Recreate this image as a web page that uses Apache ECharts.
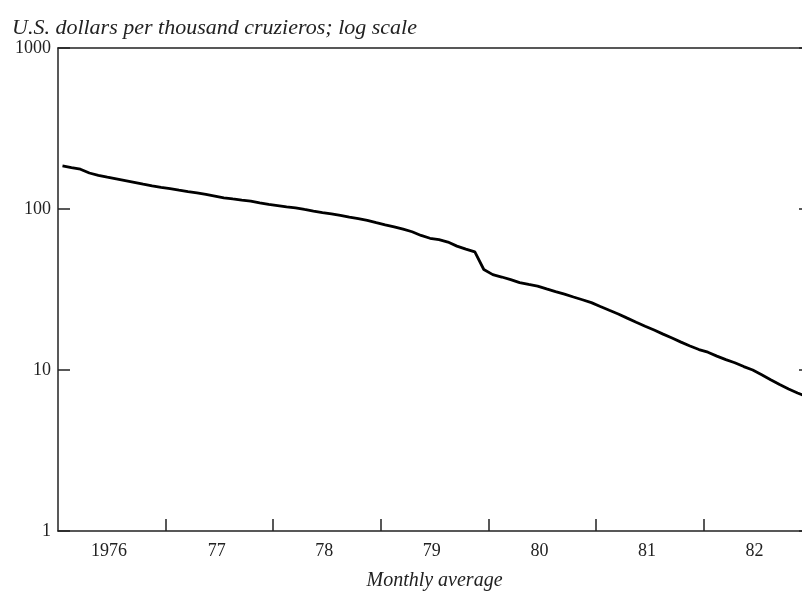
<!DOCTYPE html>
<html>
<head>
<meta charset="utf-8">
<script src="https://cdn.jsdelivr.net/npm/echarts@6/dist/echarts.min.js"></script>
<style>html,body{margin:0;padding:0;background:#fff;}#c{width:802px;height:593px;}</style>
</head>
<body>
<div id="c"></div>
<script>
// Monthly average, U.S. dollars per thousand cruzeiros, Jan 1976 onward
var startYear = 1976;
var values = [
  185.5, 181.0, 176.7, 167.3, 161.9, 157.6, 153.8, 150.1, 146.5, 142.6, 139.0, 136.2,
  133.7, 131.0, 128.4, 126.0, 123.2, 120.3, 117.4, 115.5, 113.7, 112.0, 109.1, 106.7,
  105.1, 103.2, 101.6, 99.3, 97.1, 95.1, 93.4, 91.3, 88.9, 87.2, 85.0, 82.3,
  79.8, 77.4, 74.9, 72.2, 68.5, 65.8, 64.5, 62.3, 58.8, 56.3, 54.1, 42.1,
  39.1, 37.8, 36.4, 34.9, 34.0, 33.2, 31.9, 30.7, 29.6, 28.4, 27.3, 26.2,
  24.8, 23.5, 22.3, 21.0, 19.8, 18.7, 17.7, 16.7, 15.8, 14.9, 14.1, 13.4,
  12.9, 12.2, 11.6, 11.1, 10.5, 10.0, 9.35, 8.71, 8.12, 7.63, 7.20, 6.82
];
var yearLabels = ['1976', '77', '78', '79', '80', '81', '82'];
var yTicks = [1, 10, 100, 1000];
var yTickLabels = ['1', '10', '100', '1000'];

var FONT = 'Liberation Serif';
var INK = '#222';
var nMonths = yearLabels.length * 12;
var yearTickPos = [];
var yearLabelPos = [];
for (var k = 0; k < yearLabels.length; k++) {
  if (k > 0) yearTickPos.push(k * 12);
  yearLabelPos.push(k * 12 + 5.7);
}
var data = values.map(function (v, i) { return [i + 0.5, v]; });

var chart = echarts.init(document.getElementById('c'), null, {renderer: 'canvas'});
chart.setOption({
  animation: false,
  backgroundColor: '#fff',
  title: {
    text: 'U.S. dollars per thousand cruzieros; log scale',
    left: 7, top: 12,
    textStyle: {fontFamily: FONT, fontStyle: 'italic', fontWeight: 'normal', fontSize: 22, color: INK}
  },
  grid: {left: 58, right: -9, top: 48, bottom: 62, containLabel: false, outerBoundsMode: 'none'},
  xAxis: [{
    type: 'value', position: 'bottom', min: 0, max: nMonths,
    axisLine: {show: true, onZero: false, lineStyle: {color: INK, width: 1.5}},
    axisTick: {show: true, inside: true, length: 12, customValues: yearTickPos, lineStyle: {color: INK, width: 1.5}},
    axisLabel: {
      show: true, margin: 11, customValues: yearLabelPos,
      fontFamily: FONT, fontSize: 18, color: INK,
      formatter: function (v) { return yearLabels[Math.floor(v / 12)]; }
    },
    splitLine: {show: false},
    name: 'Monthly average', nameLocation: 'middle', nameGap: 40,
    nameTextStyle: {fontFamily: FONT, fontStyle: 'italic', fontSize: 20, color: INK}
  }, {
    type: 'value', position: 'top', min: 0, max: nMonths,
    axisLine: {show: true, onZero: false, lineStyle: {color: INK, width: 1.5}},
    axisTick: {show: false}, axisLabel: {show: false}, splitLine: {show: false}
  }],
  yAxis: [{
    type: 'log', logBase: 10, min: 1, max: 1000, position: 'left',
    axisLine: {show: true, onZero: false, lineStyle: {color: INK, width: 1.5}},
    axisTick: {show: true, inside: true, length: 12, lineStyle: {color: INK, width: 1.5}},
    axisLabel: {
      show: true, margin: 7, fontFamily: FONT, fontSize: 18, color: INK,
      formatter: function (v) { var i = yTicks.indexOf(Math.round(v)); return i >= 0 ? yTickLabels[i] : ''; }
    },
    splitLine: {show: false}
  }, {
    type: 'log', logBase: 10, min: 1, max: 1000, position: 'right',
    axisLine: {show: true, onZero: false, lineStyle: {color: INK, width: 1.5}},
    axisTick: {show: true, inside: true, length: 12, lineStyle: {color: INK, width: 1.5}},
    axisLabel: {show: false}, splitLine: {show: false}
  }],
  series: [{
    type: 'line', data: data, xAxisIndex: 0, yAxisIndex: 0,
    showSymbol: false, symbol: 'none', smooth: false,
    lineStyle: {color: '#000', width: 2.8}
  }]
});
</script>
</body>
</html>
